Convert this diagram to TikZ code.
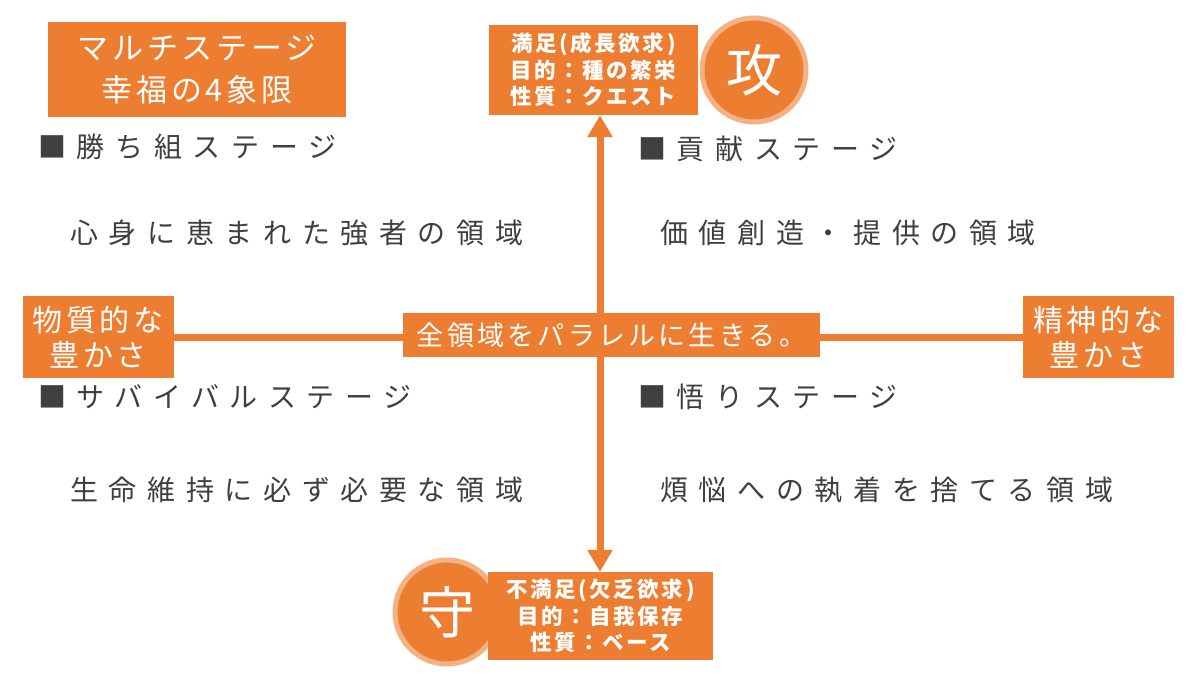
\documentclass[tikz,border=0pt]{standalone}
\usepackage{fontspec}
\setmainfont{Noto Sans CJK JP}
\newfontfamily\jpwide[LetterSpace=38]{Noto Sans CJK JP}
\newfontfamily\jpsome[LetterSpace=12]{Noto Sans CJK JP}
\usetikzlibrary{arrows.meta,backgrounds}

\definecolor{quadorange}{HTML}{ED7D31}
\definecolor{quadring}{HTML}{F4B183}
\definecolor{quadgray}{HTML}{3F3F3F}

\begin{document}
\begin{tikzpicture}[x=1pt,y=-1pt,
    obox/.style={fill=quadorange, text=white, inner sep=0pt, align=center},
    infobox/.style={obox, font=\jpsome\bfseries\fontsize{21.5}{26.5}\selectfont},
    sidebox/.style={obox, minimum width=151pt, minimum height=82pt, font=\jpsome\fontsize{30}{35}\selectfont},
    seal/.style={circle, fill=quadorange, draw=quadring, line width=5pt, minimum size=104pt, inner sep=0pt, text=white, font=\fontsize{56}{56}\selectfont},
    stagehead/.style={anchor=west, inner sep=0pt, text=quadgray, font=\jpwide\fontsize{28}{28}\selectfont},
    stagebody/.style={anchor=west, inner sep=0pt, text=quadgray, font=\jpwide\fontsize{28}{28}\selectfont},
    axis/.style={line width=7pt, quadorange}]
  \useasboundingbox (0,0) rectangle (1200,675);

  % title
  \node[obox, minimum width=298pt, minimum height=95pt, font=\jpsome\fontsize{31}{42}\selectfont] (title) at (197,69.5) {マルチステージ\\幸福の4象限};

  % top: attack
  \node[infobox, minimum width=209pt, minimum height=90pt] (topbox) at (593.5,70) {満足(成長欲求)\\目的：種の繁栄\\性質：クエスト};
  \node[seal] (kou) at (754,70) {攻};

  % bottom: defence
  \node[seal] (mamori) at (447,612) {守};
  \node[infobox, minimum width=225pt, minimum height=88pt] (botbox) at (600.5,616) {不満足(欠乏欲求)\\目的：自我保存\\性質：ベース};

  % left / right / centre
  \node[sidebox] (busshitsu) at (98,337) {物質的な\\豊かさ};
  \node[sidebox] (seishin) at (1098.5,337) {精神的な\\豊かさ};
  \node[obox, minimum width=417pt, minimum height=44pt, font=\jpsome\fontsize{27}{27}\selectfont] (parallel) at (611.5,335) {全領域をパラレルに生きる。};
  \coordinate (vaxis) at (600,336);

  \begin{scope}[on background layer]
    \draw[axis] (busshitsu.east) -- (seishin.west);
    \draw[axis, {Triangle[width=24pt,length=22pt]}-{Triangle[width=24pt,length=22pt]}] (vaxis |- topbox.south) -- (vaxis |- botbox.north);
  \end{scope}

  % quadrants
  \node[stagehead] (kachigumi) at (38,147) {■勝ち組ステージ};
  \node[stagebody] (kachibody) at (70,233) {心身に恵まれた強者の領域};
  \node[stagehead] (kouken) at (638,149) {■貢献ステージ};
  \node[stagebody] (koukenbody) at (660,233) {価値創造・提供の領域};
  \node[stagehead] (survival) at (38,397) {■サバイバルステージ};
  \node[stagebody] (survivalbody) at (70,490) {生命維持に必ず必要な領域};
  \node[stagehead] (satori) at (638,397) {■悟りステージ};
  \node[stagebody] (satoribody) at (660,490) {煩悩への執着を捨てる領域};
\end{tikzpicture}
\end{document}
